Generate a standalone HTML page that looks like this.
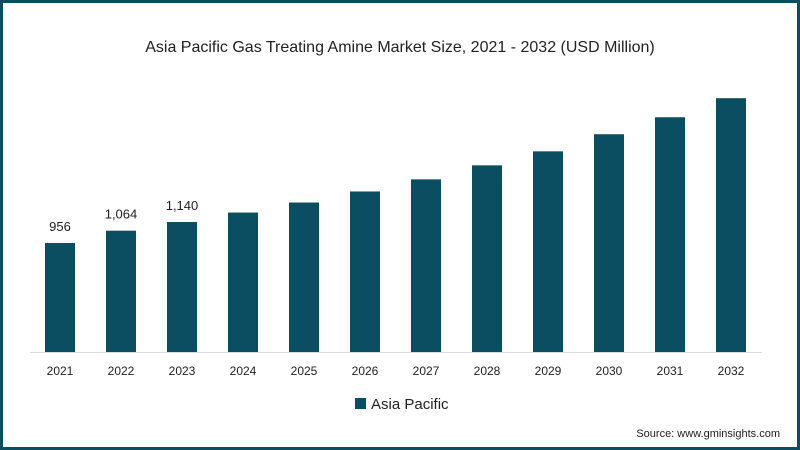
<!DOCTYPE html>
<html><head><meta charset="utf-8"><style>
html,body{margin:0;padding:0;background:#fff}
#wrap{position:relative;width:800px;height:450px;box-sizing:border-box;border:3px solid #0b4d61;background:#fff;font-family:"Liberation Sans",sans-serif}
svg{position:absolute;left:-3px;top:-3px}
</style></head><body>
<div id="wrap">
<svg id="chart" width="800" height="450">
<text x="400" y="52" text-anchor="middle" font-size="16" fill="#222">Asia Pacific Gas Treating Amine Market Size, 2021 - 2032 (USD Million)</text>
<line x1="30" y1="352.5" x2="762" y2="352.5" stroke="#ddd" stroke-width="1"/>
<g id="bars"></g>
<rect x="355" y="398" width="11" height="11" fill="#0b4d61"/>
<text x="371" y="409" font-size="15" fill="#222">Asia Pacific</text>
<text x="780" y="437" text-anchor="end" font-size="11" fill="#222">Source: www.gminsights.com</text>
</svg>
</div>
<script>
const categories = ["2021","2022","2023","2024","2025","2026","2027","2028","2029","2030","2031","2032"];
const values = [956,1064,1140,1223,1311,1408,1514,1637,1760,1910,2059,2226];
const labels = ["956","1,064","1,140","","","","","","","","",""];
const baseY = 352, pxPerUnit = 109/956, x0 = 45, step = 61, bw = 30;
function xScale(i){return x0 + i*step;}
function yScale(v){return baseY - v*pxPerUnit;}
const g = document.getElementById('bars');
const NS = "http://www.w3.org/2000/svg";
categories.forEach((c,i)=>{
  const r = document.createElementNS(NS,'rect');
  r.setAttribute('x', xScale(i)); r.setAttribute('y', yScale(values[i]));
  r.setAttribute('width', bw); r.setAttribute('height', baseY - yScale(values[i]));
  r.setAttribute('fill', '#0b4d61');
  
  
  g.appendChild(r);
  const t = document.createElementNS(NS,'text');
  t.setAttribute('x', xScale(i)+bw/2); t.setAttribute('y', 375);
  t.setAttribute('text-anchor','middle'); t.setAttribute('font-size','12'); t.setAttribute('fill','#222');
  t.textContent = c;
  
  
  g.appendChild(t);
  if(labels[i]){
    const l = document.createElementNS(NS,'text');
    l.setAttribute('x', xScale(i)+bw/2); l.setAttribute('y', yScale(values[i])-12);
    l.setAttribute('text-anchor','middle'); l.setAttribute('font-size','13'); l.setAttribute('fill','#222');
    l.textContent = labels[i];
    
    
    g.appendChild(l);
  }
});
</script>
</body></html>
